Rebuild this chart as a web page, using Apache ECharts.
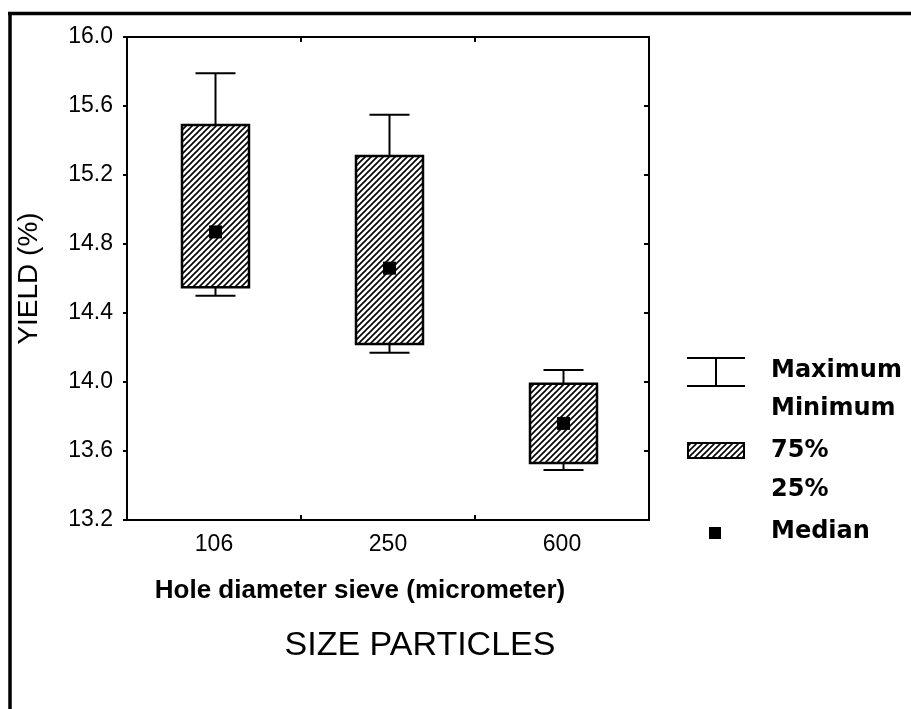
<!DOCTYPE html>
<html>
<head>
<meta charset="utf-8">
<script src="https://cdn.jsdelivr.net/npm/echarts@6/dist/echarts.min.js"></script>
<style>
html,body{margin:0;padding:0;background:#fff;}
#chart{width:911px;height:709px;}
</style>
</head>
<body>
<div id="chart"></div>
<script>
// ---- data ----
var categories = ['106', '250', '600'];
var minimums = [14.50, 14.17, 13.49];
var q25 = [14.55, 14.22, 13.53];
var medians = [14.87, 14.66, 13.76];
var q75 = [15.49, 15.31, 13.99];
var maximums = [15.79, 15.55, 14.07];
var yTicks = { min: 13.2, max: 16.0, step: 0.4 };
var legendLabels = ['Maximum', 'Minimum', '75%', '25%', 'Median'];

// ---- hatch pattern ----
function makeHatch() {
  var c = document.createElement('canvas');
  var s = 6;
  c.width = s; c.height = s;
  var g = c.getContext('2d');
  g.fillStyle = '#fff';
  g.fillRect(0, 0, s, s);
  g.strokeStyle = '#000';
  g.lineWidth = 1.6;
  g.beginPath();
  g.moveTo(-1, s + 1); g.lineTo(s + 1, -1);
  g.moveTo(-1, 1); g.lineTo(1, -1);
  g.moveTo(s - 1, s + 1); g.lineTo(s + 1, s - 1);
  g.stroke();
  return c;
}
var hatch = makeHatch();
var hatchFill = { image: hatch, repeat: 'repeat' };

var seriesData = categories.map(function (c, i) {
  return [i, minimums[i], q25[i], medians[i], q75[i], maximums[i]];
});

function renderBox(params, api) {
  var idx = api.value(0);
  var pMin = api.coord([idx, api.value(1)]);
  var pQ1 = api.coord([idx, api.value(2)]);
  var pMed = api.coord([idx, api.value(3)]);
  var pQ3 = api.coord([idx, api.value(4)]);
  var pMax = api.coord([idx, api.value(5)]);
  var band = api.size([1, 0])[0];
  var bw = band * 0.385;
  var cw = band * 0.23;
  var x = pMed[0] + 1.5;
  var ls = { stroke: '#000', lineWidth: 2, fill: null };
  var sq = 13;
  return {
    type: 'group',
    children: [
      { type: 'line', shape: { x1: x, y1: pMax[1], x2: x, y2: pQ3[1] }, style: ls },
      { type: 'line', shape: { x1: x - cw / 2, y1: pMax[1], x2: x + cw / 2, y2: pMax[1] }, style: ls },
      { type: 'line', shape: { x1: x, y1: pMin[1], x2: x, y2: pQ1[1] }, style: ls },
      { type: 'line', shape: { x1: x - cw / 2, y1: pMin[1], x2: x + cw / 2, y2: pMin[1] }, style: ls },
      { type: 'rect', shape: { x: x - bw / 2, y: pQ3[1], width: bw, height: pQ1[1] - pQ3[1] },
        style: { fill: hatchFill, stroke: '#000', lineWidth: 2.5 } },
      { type: 'rect', shape: { x: x - sq / 2, y: pMed[1] - sq / 2, width: sq, height: sq },
        style: { fill: '#000' } }
    ]
  };
}

var chart = echarts.init(document.getElementById('chart'), null, { renderer: 'canvas' });

var legendX = 687, legendTextX = 771;
var legendFont = 'bold 24px "DejaVu Sans"';

var option = {
  backgroundColor: '#fff',
  animation: false,
  title: {
    text: 'SIZE PARTICLES',
    left: 415,
    top: 624,
    textAlign: 'center',
    textStyle: { fontFamily: 'Liberation Sans', fontSize: 34, fontWeight: 'normal', color: '#000' }
  },
  grid: { left: 127, top: 37, right: 262, bottom: 189, containLabel: false },
  xAxis: [
    {
      type: 'category',
      data: categories,
      position: 'bottom',
      boundaryGap: true,
      axisLine: { lineStyle: { color: '#000', width: 2 } },
      axisTick: { show: true, inside: true, length: 5, interval: 0, lineStyle: { color: '#000', width: 2 } },
      axisLabel: { color: '#000', fontFamily: 'Liberation Sans', fontSize: 23, margin: 13 },
      name: 'Hole diameter sieve (micrometer)',
      nameLocation: 'middle',
      nameGap: 58,
      nameTextStyle: { color: '#000', fontFamily: 'Liberation Sans', fontSize: 26, fontWeight: 'bold', padding: [0, 56, 0, 0] },
      splitLine: { show: false }
    },
    {
      type: 'category',
      data: categories,
      position: 'top',
      boundaryGap: true,
      axisLine: { lineStyle: { color: '#000', width: 2 } },
      axisTick: { show: true, inside: true, length: 5, interval: 0, lineStyle: { color: '#000', width: 2 } },
      axisLabel: { show: false },
      splitLine: { show: false }
    }
  ],
  yAxis: [
    {
      type: 'value',
      min: yTicks.min,
      max: yTicks.max,
      interval: yTicks.step,
      position: 'left',
      axisLine: { show: true, lineStyle: { color: '#000', width: 2 } },
      axisTick: { show: true, inside: false, length: 4, lineStyle: { color: '#000', width: 2 } },
      axisLabel: {
        color: '#000', fontFamily: 'Liberation Sans', fontSize: 23, margin: 14,
        formatter: function (v) { return v.toFixed(1); }
      },
      splitLine: { show: false },
      name: 'YIELD (%)',
      nameLocation: 'middle',
      nameGap: 84,
      nameRotate: 90,
      nameTextStyle: { color: '#000', fontFamily: 'Liberation Sans', fontSize: 28 }
    },
    {
      type: 'value',
      min: yTicks.min,
      max: yTicks.max,
      interval: yTicks.step,
      position: 'right',
      axisLine: { show: true, lineStyle: { color: '#000', width: 2 } },
      axisTick: { show: true, inside: true, length: 5, lineStyle: { color: '#000', width: 2 } },
      axisLabel: { show: false },
      splitLine: { show: false }
    }
  ],
  series: [
    {
      type: 'custom',
      name: 'Yield',
      xAxisIndex: 0,
      yAxisIndex: 0,
      renderItem: renderBox,
      encode: { x: 0, y: [1, 2, 3, 4, 5] },
      data: seriesData,
      clip: false
    }
  ],
  graphic: [
    // outer frame (top and left edges visible)
    { type: 'line', shape: { x1: 8, y1: 13.5, x2: 911, y2: 13.5 }, style: { stroke: '#000', lineWidth: 3.5 } },
    { type: 'line', shape: { x1: 10, y1: 12, x2: 10, y2: 709 }, style: { stroke: '#000', lineWidth: 3.5 } },
    // legend: whisker icon
    { type: 'line', shape: { x1: legendX, y1: 358, x2: legendX + 58, y2: 358 }, style: { stroke: '#000', lineWidth: 2 } },
    { type: 'line', shape: { x1: legendX, y1: 386, x2: legendX + 58, y2: 386 }, style: { stroke: '#000', lineWidth: 2 } },
    { type: 'line', shape: { x1: legendX + 29, y1: 358, x2: legendX + 29, y2: 386 }, style: { stroke: '#000', lineWidth: 2 } },
    { type: 'text', left: legendTextX, top: 359, style: { text: legendLabels[0], font: legendFont, fill: '#000' } },
    { type: 'text', left: legendTextX, top: 397, style: { text: legendLabels[1], font: legendFont, fill: '#000' } },
    // legend: hatched box
    { type: 'rect', shape: { x: legendX + 1, y: 443, width: 56, height: 15 }, style: { fill: hatchFill, stroke: '#000', lineWidth: 2 } },
    { type: 'text', left: legendTextX, top: 439, style: { text: legendLabels[2], font: legendFont, fill: '#000' } },
    { type: 'text', left: legendTextX, top: 478, style: { text: legendLabels[3], font: legendFont, fill: '#000' } },
    // legend: median square
    { type: 'rect', shape: { x: 709, y: 527, width: 12, height: 12 }, style: { fill: '#000' } },
    { type: 'text', left: legendTextX, top: 520, style: { text: legendLabels[4], font: legendFont, fill: '#000' } }
  ]
};

chart.setOption(option);
</script>
</body>
</html>
